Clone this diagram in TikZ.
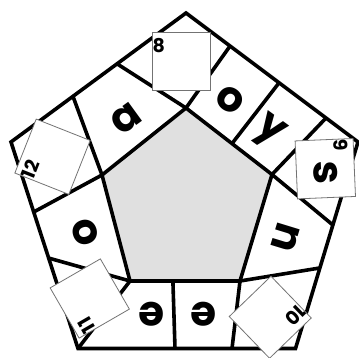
\documentclass[tikz,border=0pt]{standalone}
\usepackage{fontspec}
\usepackage{tikz}
\usetikzlibrary{calc}
\newfontfamily\tilefont{Poppins}

\begin{document}
\begin{tikzpicture}[
    x=1pt, y=-1pt,
    wall/.style={line width=3.6pt, draw=black},
    hole/.style={fill=black!12},
    letter/.style={font=\tilefont\bfseries\fontsize{42}{42}\selectfont, inner sep=0pt},
    tile/.style={draw=black!55, line width=0.8pt, fill=white, minimum size=58pt, inner sep=0pt},
    num/.style={font=\tilefont\bfseries\fontsize{19}{19}\selectfont, inner xsep=0.5pt, inner ysep=6pt, anchor=north west},
]
    \useasboundingbox (0,0) rectangle (359,358);

    % Outer pentagon
    \coordinate (o1) at (186,13);
    \coordinate (o2) at (358,142);
    \coordinate (o3) at (295.5,348.5);
    \coordinate (o4) at (78,348.5);
    \coordinate (o5) at (11,142);

    % Inner pentagon
    \coordinate (i1) at (186,108);
    \coordinate (i2) at (272,174.5);
    \coordinate (i3) at (240,281);
    \coordinate (i4) at (130,281);
    \coordinate (i5) at (102,175);

    % Cuts on the outer edges
    \coordinate (c1) at ($(o5)!0.354!(o1)$);
    \coordinate (c2) at ($(o5)!0.606!(o1)$);
    \coordinate (c3) at ($(o1)!0.256!(o2)$);
    \coordinate (c4) at ($(o1)!0.541!(o2)$);
    \coordinate (c5) at ($(o1)!0.814!(o2)$);
    \coordinate (c6) at ($(o2)!0.402!(o3)$);
    \coordinate (c7) at ($(o2)!0.610!(o3)$);
    \coordinate (c8) at (232,348.5);
    \coordinate (c9) at (175,348.5);
    \coordinate (c10) at ($(o4)!0.438!(o5)$);
    \coordinate (c11) at ($(o4)!0.661!(o5)$);

    % Cuts on the inner edges
    \coordinate (k1) at ($(i1)!0.535!(i2)$);
    \coordinate (k2) at ($(i4)!0.39!(i3)$);

    % Board
    \fill[hole] (i1) -- (i2) -- (i3) -- (i4) -- (i5) -- cycle;
    \draw[wall] (o1) -- (o2) -- (o3) -- (o4) -- (o5) -- cycle;
    \draw[wall] (i1) -- (i2) -- (i3) -- (i4) -- (i5) -- cycle;
    \draw[wall] (c1) -- (i5);
    \draw[wall] (c11) -- (i5);
    \draw[wall] (c2) -- (i1);
    \draw[wall] (c3) -- (i1);
    \draw[wall] (c4) -- (k1);
    \draw[wall] (c5) -- (i2);
    \draw[wall] (c6) -- (i2);
    \draw[wall] (c7) -- (i3);
    \draw[wall] (c8) -- (i3);
    \draw[wall] (c9) -- (k2);
    \draw[wall] (o4) -- (i4);
    \draw[wall] (c10) -- (i4);

    % Letters
    \node[letter, rotate=36] (la) at (126,119) {a};
    \node[letter, rotate=-36] (lo) at (230,100) {o};
    \node[letter, rotate=-36] (ly) at (269,132) {y};
    \node[letter, rotate=-107] (ln) at (286,237) {n};
    \node[letter, rotate=180] (le) at (204,314) {e};
    \node[letter, rotate=180] (lf) at (152,314) {e};
    \node[letter, rotate=108] (lp) at (85,232) {o};

    % Tiles
    \node[tile] (t8) at (181.2,61.3) {};
    \node[num] (n8) at (t8.north west) {8};
    \node[tile, rotate=-87.6] (t9) at (325.3,168.7) {};
    \node[num, rotate=-87.6] (n9) at (t9.north west) {9};
    \node[letter, rotate=-87.6] (ls) at (326,173) {s};
    \node[tile, rotate=-136] (t10) at (270.25,317.25) {};
    \node[num, rotate=-136] (n10) at (t10.north west) {10};
    \node[tile, rotate=120] (t11) at (89.75,298.5) {};
    \node[num, rotate=120] (n11) at (t11.north west) {11};
    \node[tile, rotate=68.4] (t12) at (52.5,156.75) {};
    \node[num, rotate=68.4] (n12) at (t12.north west) {12};
\end{tikzpicture}
\end{document}
